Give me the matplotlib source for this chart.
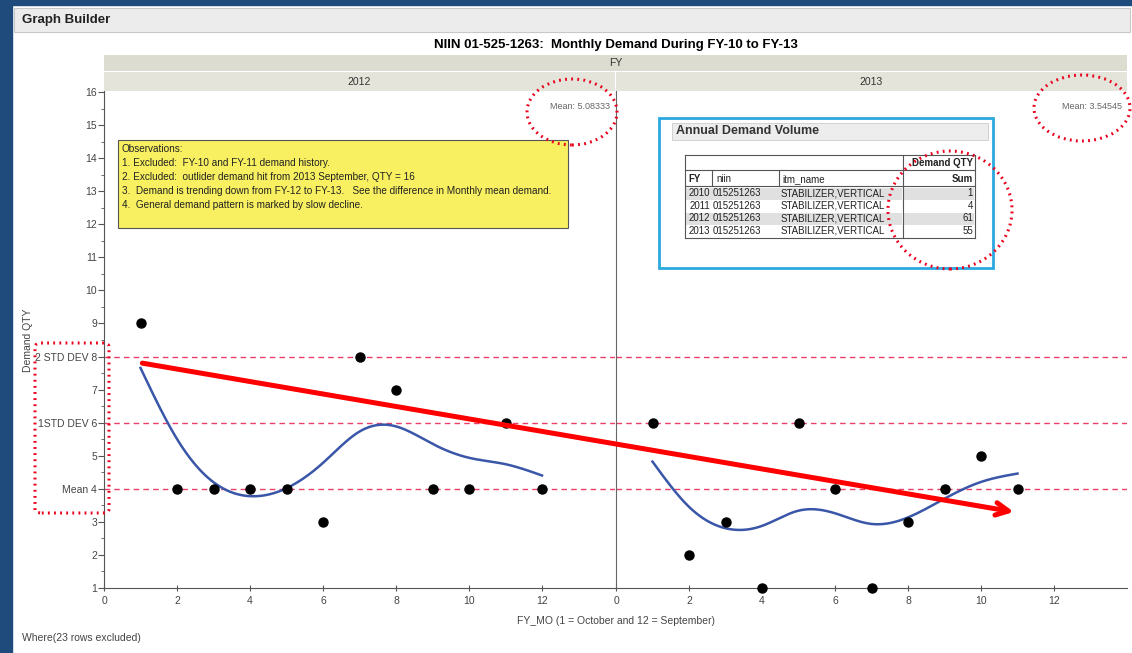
import numpy as np
import matplotlib.pyplot as plt
from matplotlib.patches import Rectangle, Ellipse, FancyBboxPatch, ConnectionPatch

# monthly demand, FY_MO 1 = October ... 12 = September
months_2012 = [1, 2, 3, 4, 5, 6, 7, 8, 9, 10, 11, 12]
qty_2012 = [9, 4, 4, 4, 4, 3, 8, 7, 4, 4, 6, 4]
months_2013 = [1, 2, 3, 4, 5, 6, 7, 8, 9, 10, 11]
qty_2013 = [6, 2, 3, 1, 6, 4, 1, 3, 4, 5, 4]

# control lines and their labels
ref_levels = [8, 6, 4]
ref_labels = ["2 STD DEV 8", "1STD DEV 6", "Mean 4"]

# annual demand table
table_fy = [2010, 2011, 2012, 2013]
table_niin = ["015251263"] * 4
table_name = ["STABILIZER,VERTICAL"] * 4
table_sum = [1, 4, 61, 55]

observations = [
    "Observations:",
    "1. Excluded:  FY-10 and FY-11 demand history.",
    "2. Excluded:  outlider demand hit from 2013 September, QTY = 16",
    "3.  Demand is trending down from FY-12 to FY-13.   See the difference in Monthly mean demand.",
    "4.  General demand pattern is marked by slow decline.",
]

W, H = 1132, 653
NARROW = ["Liberation Sans Narrow", "Liberation Sans", "DejaVu Sans"]
SANS = ["Liberation Sans", "DejaVu Sans"]


def smooth_curve(x, y, lam=1.0, step=0.05):
    # cubic smoothing spline approximated on a fine grid (penalised second differences)
    x = np.asarray(x, float)
    y = np.asarray(y, float)
    grid = np.arange(x.min(), x.max() + step / 2, step)
    n = len(grid)
    idx = np.round((x - x.min()) / step).astype(int)
    w = np.zeros(n)
    w[idx] = 1.0
    b = np.zeros(n)
    b[idx] = y
    D = np.diff(np.eye(n), 2, axis=0)
    A = np.diag(w) + lam / step ** 3 * (D.T @ D)
    return grid, np.linalg.solve(A, b)


def px(x, y):
    # pixel position (from top-left) -> figure fraction
    return x / W, 1 - y / H


fig = plt.figure(figsize=(W / 100, H / 100), dpi=100)
fig.patch.set_facecolor("white")

# window frame and "Graph Builder" bar
fig.patches.append(Rectangle(px(0, H), 12 / W, 1, transform=fig.transFigure, color="#1f4b7c", zorder=0))
fig.patches.append(Rectangle(px(0, 5), 1, 5 / H, transform=fig.transFigure, color="#1f4b7c", zorder=0))
fig.patches.append(Rectangle(px(14, 32), (1130 - 14) / W, 24 / H, transform=fig.transFigure,
                             facecolor="#ececec", edgecolor="#c8c8c8", lw=0.8, zorder=0))
fig.text(*px(22, 20), "Graph Builder", fontsize=9.5, fontweight="bold", family=SANS,
         va="center", ha="left", color="#222222")

# title and facet strips
fig.text(*px(616, 45), "NIIN 01-525-1263:  Monthly Demand During FY-10 to FY-13", fontsize=9.5,
         fontweight="bold", family=SANS, ha="center", va="center")
fig.patches.append(Rectangle(px(104, 71), (1127 - 104) / W, 16 / H, transform=fig.transFigure,
                             facecolor="#dcdcd0", edgecolor="none", zorder=0))
fig.text(*px(616, 63), "FY", fontsize=7.5, family=SANS, ha="center", va="center", color="#333333")
fig.patches.append(Rectangle(px(104, 91), (615 - 104) / W, 19 / H, transform=fig.transFigure,
                             facecolor="#e4e4da", edgecolor="none", zorder=0))
fig.patches.append(Rectangle(px(616, 91), (1127 - 616) / W, 19 / H, transform=fig.transFigure,
                             facecolor="#e4e4da", edgecolor="none", zorder=0))
fig.text(*px(359, 82), "2012", fontsize=7.5, family=SANS, ha="center", va="center", color="#333333")
fig.text(*px(871, 82), "2013", fontsize=7.5, family=SANS, ha="center", va="center", color="#333333")

ax_w = 511 / W
ax1 = fig.add_axes([104 / W, 1 - 588 / H, ax_w, (588 - 90) / H])
ax2 = fig.add_axes([616 / W, 1 - 588 / H, ax_w, (588 - 90) / H])

panels = [(ax1, months_2012, qty_2012), (ax2, months_2013, qty_2013)]
for ax, months, qty in panels:
    ax.set_xlim(0, 14)
    ax.set_ylim(1, 16.06)
    ax.patch.set_alpha(0)
    for side in ["top", "right"]:
        ax.spines[side].set_visible(False)
    ax.spines["left"].set_color("#555555")
    ax.spines["bottom"].set_color("#555555")
    ax.set_xticks([0, 2, 4, 6, 8, 10, 12])
    ax.tick_params(axis="x", direction="inout", length=5, labelsize=7.5, labelcolor="#444444",
                   color="#555555", pad=3)
    for h in ref_levels:
        ax.axhline(h, color="#e8406a", lw=1.0, ls=(0, (4, 3)), zorder=1)
    gx, gy = smooth_curve(months, qty, lam=1.3)
    ax.plot(gx, gy, color="#3a56a8", lw=1.8, zorder=3)
    ax.plot(months, qty, "o", color="black", ms=6.5, zorder=4, clip_on=False)
    for lab in ax.get_xticklabels():
        lab.set_family(SANS)

ax1.set_yticks(range(1, 17))
ax1.set_yticks(np.arange(1.5, 16, 1), minor=True)
ylabels = [str(v) for v in range(1, 17)]
for lv, lb in zip(ref_levels, ref_labels):
    ylabels[lv - 1] = lb
ax1.set_yticklabels(ylabels, family=NARROW)
ax1.tick_params(axis="y", which="major", length=4, labelsize=7.5, labelcolor="#444444", color="#555555", pad=1)
ax1.tick_params(axis="y", which="minor", length=2.5, color="#555555")
ax2.tick_params(axis="y", left=False, labelleft=False)
ax2.spines["left"].set_color("#666666")

# monthly mean labels
ax1.text(13.85, 15.55, f"Mean: {np.mean(qty_2012):.5f}".rstrip("0"), fontsize=6.5, color="#666666",
         ha="right", va="center", family=NARROW)
ax2.text(13.85, 15.55, f"Mean: {np.mean(qty_2013):.5f}", fontsize=6.5, color="#666666",
         ha="right", va="center", family=NARROW)

fig.text(*px(28, 340), "Demand QTY", rotation=90, fontsize=7.5, family=NARROW, color="#444444",
         ha="center", va="center")
fig.text(*px(616, 621), "FY_MO (1 = October and 12 = September)", fontsize=7.5, family=NARROW,
         color="#444444", ha="center", va="center")
fig.text(*px(22, 638), "Where(23 rows excluded)", fontsize=7.5, family=NARROW, color="#444444",
         ha="left", va="center")

# observations note
fig.patches.append(Rectangle(px(118, 228), 450 / W, 88 / H, transform=fig.transFigure,
                             facecolor="#f8f060", edgecolor="#555555", lw=0.8, zorder=5))
for i, line in enumerate(observations):
    fig.text(*px(122, 149 + 14 * i), line, fontsize=7.2, family=NARROW, color="#222222",
             ha="left", va="center", zorder=6)

# annual demand volume table
fig.patches.append(Rectangle(px(659, 268), 334 / W, 150 / H, transform=fig.transFigure,
                             facecolor="white", edgecolor="#2aa8df", lw=2, zorder=5))
fig.patches.append(Rectangle(px(672, 140), 316 / W, 17 / H, transform=fig.transFigure,
                             facecolor="#ededed", edgecolor="#cccccc", lw=0.6, zorder=6))
fig.text(*px(676, 131), "Annual Demand Volume", fontsize=9, fontweight="bold", family=SANS,
         color="#333333", ha="left", va="center", zorder=7)
col_x = [685, 712, 779, 903, 975]
row_y = 187
row_h = 12.5
for i in range(len(table_fy)):
    if i % 2 == 0:
        y0 = row_y + i * row_h
        fig.patches.append(Rectangle(px(686, y0 + row_h), (902 - 686) / W, (row_h - 1) / H,
                                     transform=fig.transFigure, facecolor="#e0e0e0",
                                     edgecolor="none", zorder=6))
        fig.patches.append(Rectangle(px(904, y0 + row_h), (974 - 904) / W, (row_h - 1) / H,
                                     transform=fig.transFigure, facecolor="#e0e0e0",
                                     edgecolor="none", zorder=6))
tbl_kw = dict(transform=fig.transFigure, color="#555555", lw=0.8, zorder=7)
fig.add_artist(plt.Line2D([685 / W, 975 / W], [1 - 155 / H] * 2, **tbl_kw))
fig.add_artist(plt.Line2D([685 / W, 975 / W], [1 - 170 / H] * 2, **tbl_kw))
fig.add_artist(plt.Line2D([685 / W, 975 / W], [1 - 186 / H] * 2, **tbl_kw))
fig.add_artist(plt.Line2D([685 / W, 975 / W], [1 - 238 / H] * 2, **tbl_kw))
fig.add_artist(plt.Line2D([685 / W] * 2, [1 - 155 / H, 1 - 238 / H], **tbl_kw))
fig.add_artist(plt.Line2D([975 / W] * 2, [1 - 155 / H, 1 - 238 / H], **tbl_kw))
fig.add_artist(plt.Line2D([903 / W] * 2, [1 - 155 / H, 1 - 238 / H], **tbl_kw))
for cx in col_x[1:3]:
    fig.add_artist(plt.Line2D([cx / W] * 2, [1 - 170 / H, 1 - 186 / H], **tbl_kw))
tk = dict(fontsize=7, family=SANS, color="#222222", va="center", zorder=8)
fig.text(*px(973, 163), "Demand QTY", ha="right", fontweight="bold", **tk)
fig.text(*px(688, 179), "FY", ha="left", fontweight="bold", **tk)
fig.text(*px(716, 179), "niin", ha="left", **tk)
fig.text(*px(782, 179), "itm_name", ha="left", **tk)
fig.text(*px(973, 179), "Sum", ha="right", fontweight="bold", **tk)
for i in range(len(table_fy)):
    yy = row_y + i * row_h + row_h / 2
    fig.text(*px(710, yy), str(table_fy[i]), ha="right", **tk)
    fig.text(*px(713, yy), table_niin[i], ha="left", **tk)
    fig.text(*px(781, yy), table_name[i], ha="left", **tk)
    fig.text(*px(973, yy), str(table_sum[i]), ha="right", **tk)

# red trend arrow across both years
arrow = ConnectionPatch(xyA=(1.05, 7.8), coordsA=ax1.transData, xyB=(10.9, 3.3), coordsB=ax2.transData,
                        arrowstyle="->,head_length=0.9,head_width=0.45", color="#ff0000", lw=3.6,
                        zorder=10)
fig.add_artist(arrow)

# red dotted highlights
dot = dict(transform=fig.transFigure, facecolor="none", edgecolor="#e8001c", lw=2.2,
           ls=(0, (0.6, 1.4)), zorder=11)
fig.add_artist(Ellipse(px(572, 112), 90 / W, 66 / H, **dot))
fig.add_artist(Ellipse(px(1082, 108), 96 / W, 66 / H, **dot))
fig.add_artist(Ellipse(px(950, 210), 124 / W, 118 / H, **dot))
fig.add_artist(FancyBboxPatch(px(35, 513), 74 / W, 170 / H, boxstyle="round,pad=0,rounding_size=0.006",
                              **dot))

fig.savefig("out.png", dpi=100)
